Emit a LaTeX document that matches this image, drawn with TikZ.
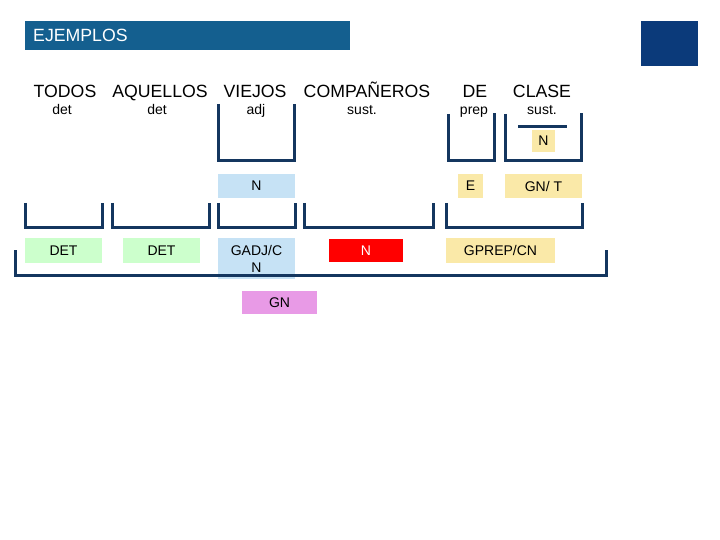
\documentclass[tikz,border=0pt]{standalone}
\usepackage{fontspec}
\setmainfont{Liberation Sans}
\usepackage{xcolor}
\usetikzlibrary{positioning}
\definecolor{barblue}{HTML}{145F8F}
\definecolor{navysq}{HTML}{0B3A7A}
\definecolor{brk}{HTML}{14365F}
\definecolor{detgreen}{HTML}{CCFFCC}
\definecolor{adjblue}{HTML}{C6E2F5}
\definecolor{gnpink}{HTML}{E89AE6}
\definecolor{prepyel}{HTML}{FAE9A8}
\definecolor{sustred}{HTML}{FF0000}

\begin{document}
\begin{tikzpicture}[
    x=1pt,y=-1pt,
    word/.style={anchor=base,font=\fontsize{17.7}{20}\selectfont},
    cat/.style={anchor=base,font=\fontsize{14}{16}\selectfont},
    box/.style={inner sep=0pt,minimum height=25pt,align=center,font=\fontsize{14}{17}\selectfont},
    detbox/.style={box,fill=detgreen},
    adjbox/.style={box,fill=adjblue},
    prepbox/.style={box,fill=prepyel},
    bracket/.style={draw=brk,line width=3pt}
  ]
    \useasboundingbox (0,0) rectangle (720,540);

    \node[fill=barblue,anchor=north west,minimum width=325pt,minimum height=29pt,
          text width=309pt,inner xsep=8pt,inner ysep=0pt,align=left,text=white,
          font=\fontsize{17.7}{20}\selectfont] (title) at (25,20.5) {EJEMPLOS};
    \node[fill=navysq,anchor=north west,minimum width=57pt,minimum height=45pt,inner sep=0pt] (logo) at (641,21) {};

    % words and categories
    \node[word] (todos) at (65,98) {TODOS};
    \node[word] (aquellos) at (160,98) {AQUELLOS};
    \node[word] (viejos) at (255,98) {VIEJOS};
    \node[word] (companeros) at (367,98) {COMPAÑEROS};
    \node[word] (de) at (475,98) {DE};
    \node[word] (clase) at (542,98) {CLASE};

    \node[cat] (det1) at (62,115) {det};
    \node[cat] (det2) at (157,115) {det};
    \node[cat] (adj) at (256,115) {adj};
    \node[cat] (sust1) at (362,115) {sust.};
    \node[cat] (prep) at (474,115) {prep};
    \node[cat] (sust2) at (542,115) {sust.};

    % functions
    \node[prepbox,minimum width=23pt,minimum height=22pt] (nucleo) at (543.5,141) {N};
    \node[adjbox,minimum width=77pt,minimum height=24pt] (nadj) at (256.5,186) {N};
    \node[prepbox,minimum width=25pt,minimum height=24pt] (enlace) at (470.5,186) {E};
    \node[prepbox,minimum width=77pt,minimum height=24pt] (termino) at (543.5,186) {GN/ T};

    \node[detbox,minimum width=77pt] (detA) at (63.5,250.5) {DET};
    \node[detbox,minimum width=77pt] (detB) at (161.5,250.5) {DET};
    \node[adjbox,minimum width=77pt,minimum height=41pt] (gadj) at (256.5,258.5) {GADJ/C\\N};
    \node[box,fill=sustred,text=white,minimum width=74pt,minimum height=23pt] (nuc) at (366,250.5) {N};
    \node[prepbox,minimum width=109pt] (gprep) at (500.5,250.5) {GPREP/CN};

    \node[box,fill=gnpink,minimum width=75pt,minimum height=23pt] (gn) at (279.5,302.5) {GN};

    % brackets
    \draw[bracket] (218,104) -- (218,161) -- (294,161) -- (294,104);
    \draw[bracket] (448,114) -- (448,161) -- (494,161) -- (494,113);
    \draw[bracket] (505,114) -- (505,161) -- (581,161) -- (581,113);
    \draw[bracket] (518,127) -- (567,127);

    \draw[bracket] (25,203) -- (25,228) -- (102,228) -- (102,203);
    \draw[bracket] (112,203) -- (112,228) -- (209,228) -- (209,203);
    \draw[bracket] (218,203) -- (218,228) -- (295,228) -- (295,203);
    \draw[bracket] (304,203) -- (304,228) -- (433,228) -- (433,203);
    \draw[bracket] (446,203) -- (446,228) -- (582,228) -- (582,203);

    \draw[bracket] (15,250) -- (15,275) -- (606,275) -- (606,250);
  \end{tikzpicture}
\end{document}
